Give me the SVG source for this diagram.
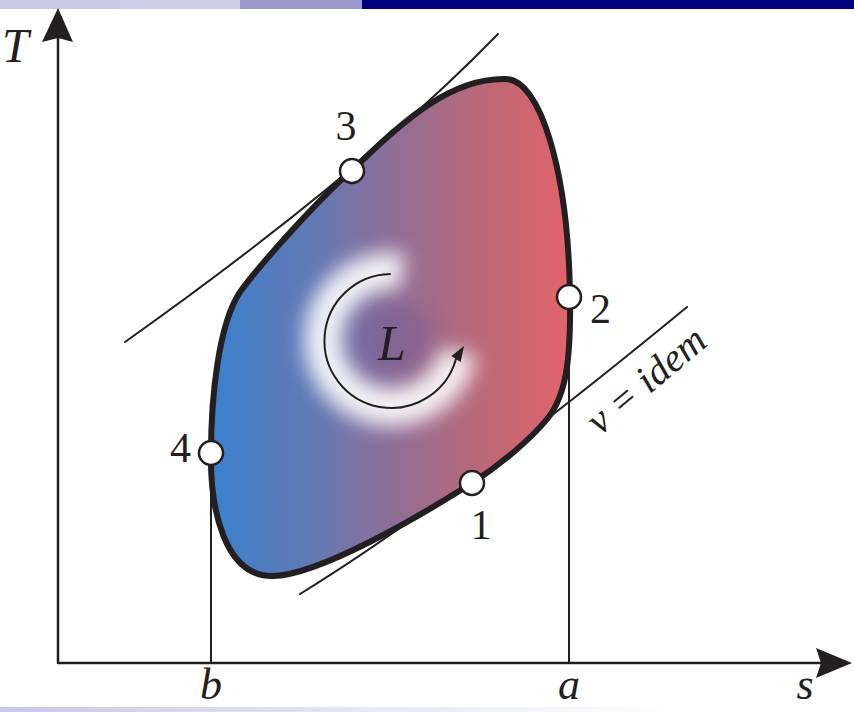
<svg xmlns="http://www.w3.org/2000/svg" width="854" height="712" viewBox="0 0 854 712">
<defs>
<style>
.ln{fill:none;stroke:#231f20;stroke-linecap:round}
.pt{fill:#fff;stroke:#231f20;stroke-width:2.5}
.it{font-family:"Liberation Serif","Times New Roman",serif;font-style:italic;fill:#231f20}
.num{font-family:"Liberation Serif","Times New Roman",serif;fill:#231f20;font-size:42px}
</style>
<linearGradient id="fillG" gradientUnits="userSpaceOnUse" x1="211" y1="0" x2="572" y2="0">
<stop offset="0" stop-color="#3b80cc"/>
<stop offset="0.3" stop-color="#6579b3"/>
<stop offset="0.5" stop-color="#8e6e98"/>
<stop offset="0.75" stop-color="#bb6878"/>
<stop offset="1" stop-color="#e3636a"/>
</linearGradient>
<linearGradient id="botG" x1="0" y1="0" x2="1" y2="0">
<stop offset="0" stop-color="#c8c8e8"/>
<stop offset="0.78" stop-color="#ffffff"/>
</linearGradient>
<filter id="blur" x="-50%" y="-50%" width="200%" height="200%">
<feGaussianBlur stdDeviation="10"/>
</filter>
<path id="cyclePath" d="M352,170 C395,130 445,78 505,79 C540,78 568,170 570,295 C571,360 566,395 548,418 C530,440 500,465 472,483 C420,516 320,575 273,576 C225,577 210,510 211,453 C211,400 218,325 240,292 C262,262 317,201 352,170 Z"/>
<clipPath id="cyc"><use href="#cyclePath"/></clipPath>
</defs>
<rect width="854" height="712" fill="#fff"/>
<g id="topbar">
<rect x="0" y="0" width="120" height="9" fill="#c9c9e7"/>
<rect x="120" y="0" width="120" height="9" fill="#cdcdea"/>
<rect x="240" y="0" width="122" height="9" fill="#9999cc"/>
<rect x="362" y="0" width="492" height="9" fill="#000080"/>
</g>
<rect id="bottombar" x="0" y="707" width="854" height="5" fill="url(#botG)"/>
<g id="connectors">
<path class="ln" stroke-width="2" d="M125,342 Q363,173 498,34"/>
<path class="ln" stroke-width="2" d="M300,594 C420,520 562,410 687,307"/>
<path class="ln" stroke-width="2" d="M211,453 V663"/>
<path class="ln" stroke-width="2" d="M569,297 V663"/>
</g>
<g id="axes">
<path class="ln" stroke-width="2.5" d="M58,663 V36 M58,663 H822"/>
<polygon points="58,8 73,42 58,38 42,42" fill="#231f20"/>
<polygon points="852,663 816,678 821,663 816,648" fill="#231f20"/>
</g>
<g id="cycle">
<use href="#cyclePath" fill="url(#fillG)"/>
<g clip-path="url(#cyc)">
<path d="M402,272 A68,68 0 1 0 458,352" fill="none" stroke="#fff" stroke-width="38" filter="url(#blur)" opacity="0.9"/>
<circle cx="395" cy="338" r="36" fill="#70598f" opacity="0.4" filter="url(#blur)"/>
</g>
<use href="#cyclePath" fill="none" stroke="#231f20" stroke-width="6" stroke-linejoin="round"/>
</g>
<g id="work">
<path class="ln" stroke-width="2" d="M390,274 A67,67 0 1 0 456,359"/>
<polygon points="464,346 451.4,356 460.6,362" fill="#231f20"/>
<text class="it" x="392" y="360" font-size="50" text-anchor="middle">L</text>
</g>
<g id="p3"><circle class="pt" cx="352" cy="171" r="12"/><text class="num" x="346" y="140" text-anchor="middle">3</text></g>
<g id="p2"><circle class="pt" cx="569" cy="297" r="12"/><text class="num" x="590" y="323">2</text></g>
<g id="p4"><circle class="pt" cx="211" cy="453" r="12"/><text class="num" x="191" y="462" text-anchor="end">4</text></g>
<g id="p1"><circle class="pt" cx="472" cy="483" r="12"/><text class="num" x="481" y="539" text-anchor="middle">1</text></g>
<g id="labels">
<text class="it" x="2" y="62" font-size="48">T</text>
<text class="it" x="805" y="699" font-size="44" text-anchor="middle">s</text>
<text class="it" x="211" y="699" font-size="44" text-anchor="middle">b</text>
<text class="it" x="569" y="699" font-size="44" text-anchor="middle">a</text>
<text class="it" font-size="40" transform="translate(600,436) rotate(-40)">v = idem</text>
</g>
</svg>
